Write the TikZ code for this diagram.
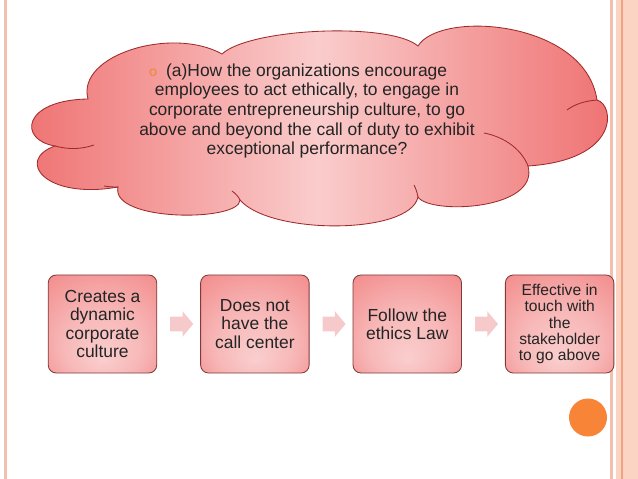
\documentclass[tikz,border=0pt]{standalone}
\usepackage{fontspec}
\setmainfont{Liberation Sans}
\usetikzlibrary{positioning,shapes.arrows}
\definecolor{CloudDark}{RGB}{239,112,112}
\definecolor{CloudLight}{RGB}{250,204,204}
\definecolor{CloudEdge}{RGB}{158,42,42}
\definecolor{BoxDark}{RGB}{240,116,116}
\definecolor{BoxLight}{RGB}{250,206,206}
\definecolor{BoxEdge}{RGB}{128,58,58}
\definecolor{ArrowPink}{RGB}{246,202,202}
\definecolor{TextGray}{RGB}{36,36,36}
\definecolor{BulletOrange}{RGB}{240,140,80}
\definecolor{DotOrange}{RGB}{248,132,56}
\definecolor{RimLine}{RGB}{243,192,176}
\definecolor{RimBand}{RGB}{252,212,196}
\definecolor{RimDark}{RGB}{240,162,132}
\pgfdeclareradialshading{boxglow}{\pgfpoint{0bp}{-18bp}}{color(0bp)=(BoxLight); color(18bp)=(BoxLight!75!BoxDark); color(50bp)=(BoxDark)}

\begin{document}
\begin{tikzpicture}[
  x=0.025cm,y=-0.025cm,text=TextGray,
  cloudline/.style={draw=CloudEdge,line width=0.6pt},
  ask/.style={align=center,inner sep=0pt,font=\fontsize{12.4}{13.9}\selectfont},
  stage/.style={draw=BoxEdge,line width=0.6pt,rounded corners=0.2cm,shading=boxglow,
    align=center,minimum width=2.7125cm,minimum height=2.45cm,inner sep=2pt,
    font=\fontsize{12.4}{12.9}\selectfont},
  chev/.style={single arrow,fill=ArrowPink,draw=none,inner sep=0pt,
    text height=0.175cm,text depth=0.175cm,minimum height=0.575cm,
    single arrow head extend=0.1375cm,single arrow tip angle=100}]
  \useasboundingbox (0,0) rectangle (638,479);
  \fill[RimLine] (4,0) rectangle (6.5,479);
  \fill[RimLine] (610,0) rectangle (613,479);
  \fill[RimBand] (615.5,0) rectangle (638,479);
  \fill[RimDark] (621,0) rectangle (623,479);

  \shadedraw[cloudline,left color=CloudDark,right color=CloudDark,middle color=CloudLight]
    (55,146) .. controls (18,140) and (22,100) .. (88,99)
    .. controls (76,55) and (172,26) .. (222,54)
    .. controls (250,28) and (390,22) .. (418,46)
    .. controls (440,10) and (585,20) .. (597,100)
    .. controls (615,105) and (620,160) .. (528,166)
    .. controls (540,210) and (430,215) .. (418,197)
    .. controls (410,235) and (270,235) .. (240,200)
    .. controls (240,222) and (110,222) .. (118,187)
    .. controls (45,200) and (15,160) .. (55,146) -- cycle;
  \draw[cloudline] (55,146) .. controls (70,150) and (82,149) .. (94,145);
  \draw[cloudline] (597,100) .. controls (585,101) and (575,104) .. (567,110);
  \draw[cloudline] (528,166) .. controls (522,150) and (505,137) .. (484,133);
  \draw[cloudline] (418,197) .. controls (417,192) and (416,189) .. (414,185);
  \draw[cloudline] (240,200) .. controls (238,196) and (236,194) .. (232,191);
  \draw[cloudline] (118,187) .. controls (114,187) and (110,187) .. (104,186);

  \node[ask] (q) at (307,111) {{\fontsize{10}{13.9}\selectfont\bfseries\color{BulletOrange}o}\hspace{0.5em}(a)How the organizations encourage\hspace*{0.45cm}\\
    employees to act ethically, to engage in\\
    corporate entrepreneurship culture, to go\\
    above and beyond the call of duty to exhibit\\
    exceptional performance?};

  \node[stage] (b1) at (102.5,324) {Creates a\\dynamic\\corporate\\culture};
  \node[stage,right=1.075cm of b1] (b2) {Does not\\have the\\call center};
  \node[stage,right=1.075cm of b2] (b3) {Follow the\\ethics Law};
  \node[stage,right=1.075cm of b3,font=\fontsize{11.1}{11.6}\selectfont] (b4) {Effective in\\touch with\\the\\stakeholder\\to go above};
  \path (b1) -- node[chev] {} (b2);
  \path (b2) -- node[chev] {} (b3);
  \path (b3) -- node[chev] {} (b4);

  \fill[DotOrange] (588,417.5) circle (19);
\end{tikzpicture}
\end{document}
